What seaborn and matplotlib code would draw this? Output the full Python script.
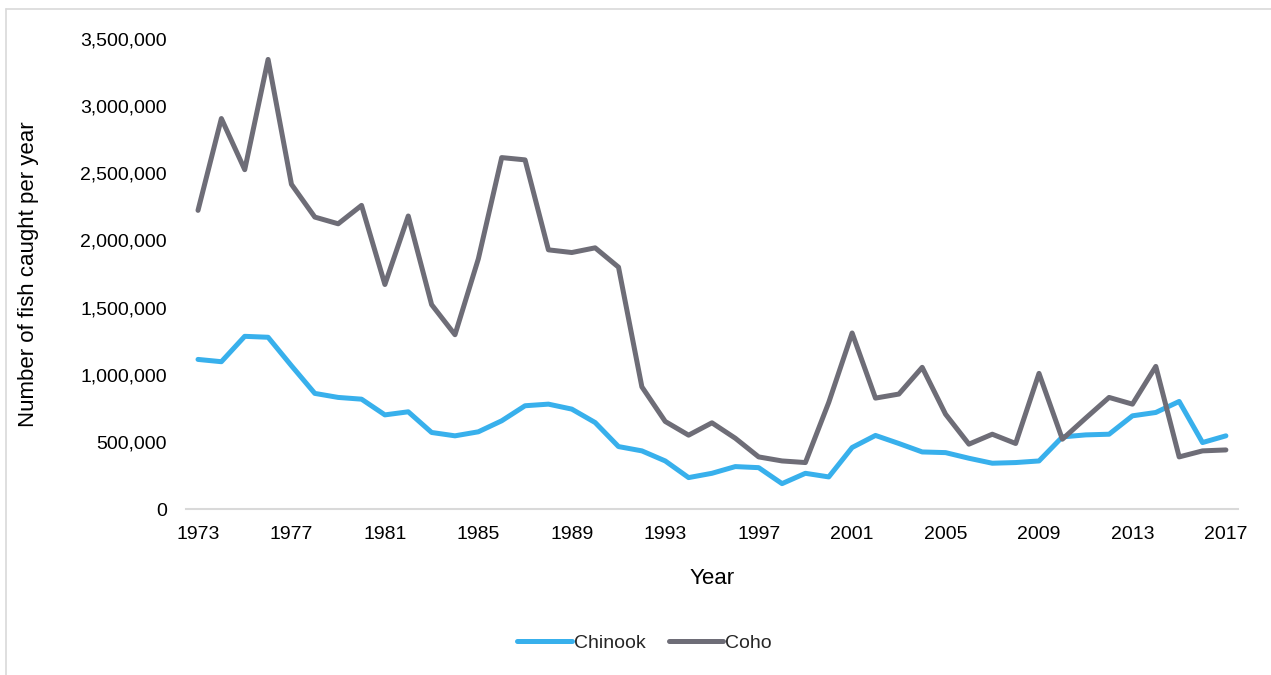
import numpy as np
import pandas as pd
import matplotlib
matplotlib.use("Agg")
import matplotlib.pyplot as plt
import seaborn as sns
from matplotlib.lines import Line2D
from matplotlib.ticker import FuncFormatter

# ---- data ----
years = list(range(1973, 2018))
chinook = [1114000, 1097000, 1286000, 1279000, 1067000, 861000, 831000, 818000, 701000, 724000,
           570000, 545000, 575000, 657000, 769000, 781000, 744000, 644000, 465000, 433000,
           358000, 234000, 266000, 316000, 308000, 189000, 266000, 239000, 458000, 548000,
           488000, 425000, 420000, 378000, 341000, 346000, 358000, 537000, 552000, 557000,
           694000, 719000, 801000, 495000, 545000]
coho = [2224000, 2908000, 2527000, 3348000, 2418000, 2174000, 2124000, 2261000, 1672000, 2182000,
        1522000, 1298000, 1863000, 2617000, 2600000, 1930000, 1910000, 1945000, 1801000, 910000,
        652000, 550000, 642000, 527000, 388000, 358000, 346000, 794000, 1311000, 826000,
        856000, 1055000, 706000, 483000, 557000, 488000, 1010000, 520000, 677000, 831000,
        781000, 1062000, 388000, 433000, 440000]
species = ["Chinook", "Coho"]
colors = {"Chinook": "#38B0EC", "Coho": "#6E6D77"}

df = pd.DataFrame({"Year": years, "Chinook": chinook, "Coho": coho})
df_long = df.melt(id_vars="Year", var_name="Species", value_name="Catch")

sns.set_theme(style="white")
plt.rcParams["font.family"] = ["Liberation Sans", "DejaVu Sans"]

fig = plt.figure(figsize=(12.71, 6.75), dpi=100)
ax = fig.add_axes([0.1466, 0.2459, 0.9737 - 0.1466, 0.9422 - 0.2459])

sns.lineplot(data=df_long, x="Year", y="Catch", hue="Species", hue_order=species,
             palette=colors, linewidth=3.6, ax=ax, legend=False)

ax.set_xlim(1972.5, 2017.5)
ax.set_ylim(0, 3500000)
ax.set_xticks(years[::4])
ax.set_yticks(np.arange(0, 3500001, 500000))
ax.yaxis.set_major_formatter(FuncFormatter(lambda v, p: f"{int(v):,}"))
ax.tick_params(axis="both", labelsize=14, length=0, colors="black")
ax.tick_params(axis="x", pad=12)
ax.tick_params(axis="y", pad=14)

for s in ["top", "right", "left"]:
    ax.spines[s].set_visible(False)
ax.spines["bottom"].set_color("#D9D9D9")
ax.spines["bottom"].set_linewidth(1.5)

ax.set_xlabel("Year", fontsize=16, color="black", labelpad=18)
ax.set_ylabel("Number of fish caught per year", fontsize=16, color="black", labelpad=30)

handles = [Line2D([0], [0], color=colors[s], lw=3.6, solid_capstyle="round") for s in species]
fig.legend(handles, species, loc="center", bbox_to_anchor=(0.507, 0.047), ncol=2,
           frameon=False, fontsize=14, handlelength=2.8, handletextpad=0.1, columnspacing=1.2)

# light chart-area border like the source
fig.add_artist(Line2D([6 / 1271, 6 / 1271], [0, 1 - 9 / 675], color="#D9D9D9", lw=1.2))
fig.add_artist(Line2D([6 / 1271, 1], [1 - 9 / 675, 1 - 9 / 675], color="#D9D9D9", lw=1.2))

fig.savefig("out.png", dpi=100)
